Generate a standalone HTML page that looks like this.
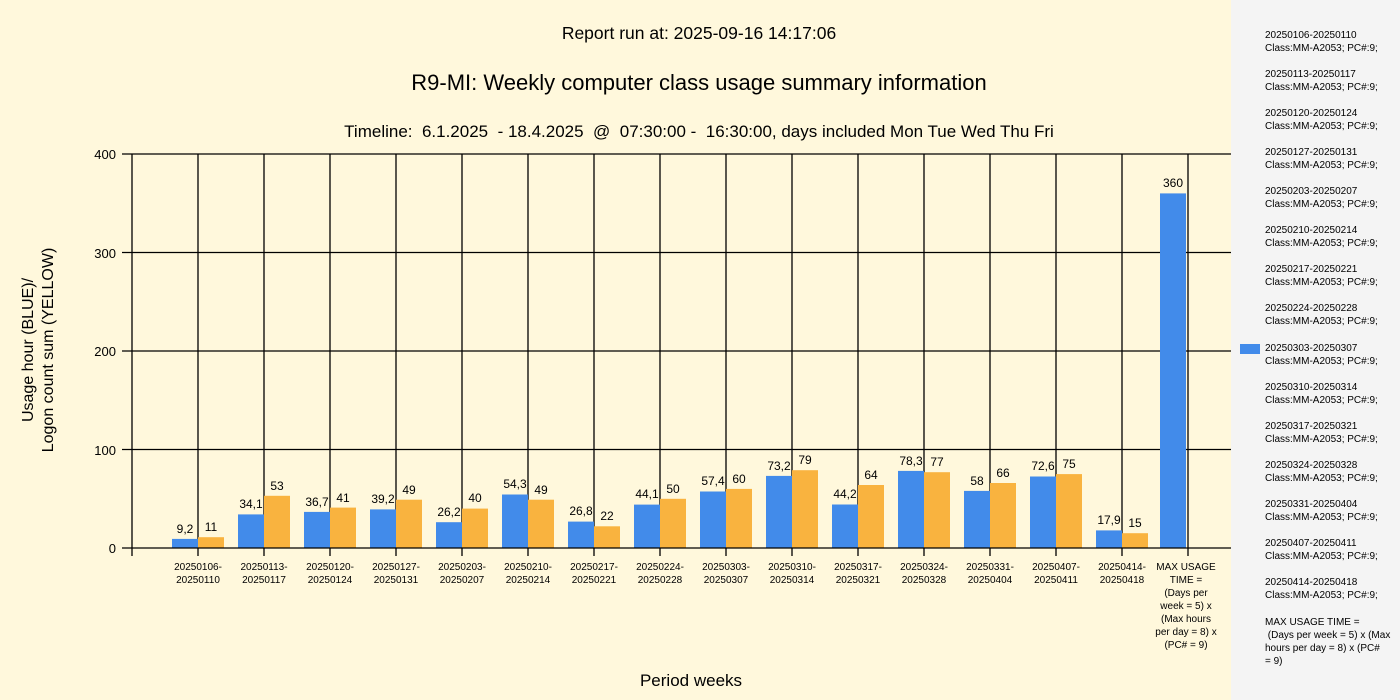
<!DOCTYPE html>
<html><head><meta charset="utf-8"><style>
body{margin:0;width:1400px;height:700px;overflow:hidden;background:#fff8dc;}
svg{display:block;font-family:"Liberation Sans",sans-serif;}
text{white-space:pre;}
</style></head><body>
<svg width="1400" height="700" viewBox="0 0 1400 700">
<rect x="0" y="0" width="1231" height="700" fill="#fff8dc"/>
<rect x="1231" y="0" width="169" height="700" fill="#f4f4f4"/>
<g text-anchor="middle" fill="#000">
<text x="699" y="39" font-size="17.5">Report run at: 2025-09-16 14:17:06</text>
<text x="699" y="90" font-size="22">R9-MI: Weekly computer class usage summary information</text>
<text x="699" y="137" font-size="17" xml:space="preserve">Timeline:  6.1.2025  - 18.4.2025  @  07:30:00 -  16:30:00, days included Mon Tue Wed Thu Fri</text>
<text x="691" y="686" font-size="17">Period weeks</text>
<text transform="translate(33,350) rotate(-90)" font-size="16">Usage hour (BLUE)/</text>
<text transform="translate(53,350) rotate(-90)" font-size="16">Logon count sum (YELLOW)</text>
</g>
<g stroke="#000" stroke-width="1.3">
<line x1="122" y1="154" x2="1231" y2="154"/><line x1="122" y1="252.5" x2="1231" y2="252.5"/>
<line x1="122" y1="351" x2="1231" y2="351"/><line x1="122" y1="449.5" x2="1231" y2="449.5"/>
<line x1="132" y1="154" x2="132" y2="556"/>
<path d="M198 154V556M264 154V556M330 154V556M396 154V556M462 154V556M528 154V556M594 154V556M660 154V556M726 154V556M792 154V556M858 154V556M924 154V556M990 154V556M1056 154V556M1122 154V556M1188 154V556"/>
</g>
<g font-size="13" text-anchor="end"><text x="116" y="159">400</text><text x="116" y="258">300</text><text x="116" y="356">200</text><text x="116" y="455">100</text><text x="116" y="553">0</text></g>
<g fill="#428bea">
<rect x="172" y="538.9" width="26" height="9.1"/><rect x="238" y="514.4" width="26" height="33.6"/><rect x="304" y="511.9" width="26" height="36.1"/><rect x="370" y="509.4" width="26" height="38.6"/><rect x="436" y="522.2" width="26" height="25.8"/><rect x="502" y="494.5" width="26" height="53.5"/><rect x="568" y="521.6" width="26" height="26.4"/><rect x="634" y="504.6" width="26" height="43.4"/><rect x="700" y="491.5" width="26" height="56.5"/><rect x="766" y="475.9" width="26" height="72.1"/><rect x="832" y="504.5" width="26" height="43.5"/><rect x="898" y="470.9" width="26" height="77.1"/><rect x="964" y="490.9" width="26" height="57.1"/><rect x="1030" y="476.5" width="26" height="71.5"/><rect x="1096" y="530.4" width="26" height="17.6"/><rect x="1160" y="193.4" width="26" height="354.6"/>
</g>
<g fill="#f9b33f">
<rect x="198" y="537.2" width="26" height="10.8"/><rect x="264" y="495.8" width="26" height="52.2"/><rect x="330" y="507.6" width="26" height="40.4"/><rect x="396" y="499.7" width="26" height="48.3"/><rect x="462" y="508.6" width="26" height="39.4"/><rect x="528" y="499.7" width="26" height="48.3"/><rect x="594" y="526.3" width="26" height="21.7"/><rect x="660" y="498.8" width="26" height="49.2"/><rect x="726" y="488.9" width="26" height="59.1"/><rect x="792" y="470.2" width="26" height="77.8"/><rect x="858" y="485" width="26" height="63"/><rect x="924" y="472.2" width="26" height="75.8"/><rect x="990" y="483" width="26" height="65"/><rect x="1056" y="474.1" width="26" height="73.9"/><rect x="1122" y="533.2" width="26" height="14.8"/>
</g>
<line x1="122" y1="548" x2="1231" y2="548" stroke="#000" stroke-width="1.3"/>
<g font-size="12" text-anchor="middle">
<text x="185" y="533">9,2</text><text x="211" y="531">11</text>
<text x="251" y="508">34,1</text><text x="277" y="490">53</text>
<text x="317" y="506">36,7</text><text x="343" y="502">41</text>
<text x="383" y="503">39,2</text><text x="409" y="494">49</text>
<text x="449" y="516">26,2</text><text x="475" y="502">40</text>
<text x="515" y="488">54,3</text><text x="541" y="494">49</text>
<text x="581" y="515">26,8</text><text x="607" y="520">22</text>
<text x="647" y="498">44,1</text><text x="673" y="493">50</text>
<text x="713" y="485">57,4</text><text x="739" y="483">60</text>
<text x="779" y="470">73,2</text><text x="805" y="464">79</text>
<text x="845" y="498">44,2</text><text x="871" y="479">64</text>
<text x="911" y="465">78,3</text><text x="937" y="466">77</text>
<text x="977" y="485">58</text><text x="1003" y="477">66</text>
<text x="1043" y="470">72,6</text><text x="1069" y="468">75</text>
<text x="1109" y="524">17,9</text><text x="1135" y="527">15</text>
<text x="1173" y="187">360</text>
</g>
<g font-size="10" text-anchor="middle">
<text x="198" y="570">20250106-</text><text x="198" y="583">20250110</text>
<text x="264" y="570">20250113-</text><text x="264" y="583">20250117</text>
<text x="330" y="570">20250120-</text><text x="330" y="583">20250124</text>
<text x="396" y="570">20250127-</text><text x="396" y="583">20250131</text>
<text x="462" y="570">20250203-</text><text x="462" y="583">20250207</text>
<text x="528" y="570">20250210-</text><text x="528" y="583">20250214</text>
<text x="594" y="570">20250217-</text><text x="594" y="583">20250221</text>
<text x="660" y="570">20250224-</text><text x="660" y="583">20250228</text>
<text x="726" y="570">20250303-</text><text x="726" y="583">20250307</text>
<text x="792" y="570">20250310-</text><text x="792" y="583">20250314</text>
<text x="858" y="570">20250317-</text><text x="858" y="583">20250321</text>
<text x="924" y="570">20250324-</text><text x="924" y="583">20250328</text>
<text x="990" y="570">20250331-</text><text x="990" y="583">20250404</text>
<text x="1056" y="570">20250407-</text><text x="1056" y="583">20250411</text>
<text x="1122" y="570">20250414-</text><text x="1122" y="583">20250418</text>
<text x="1186" y="570">MAX USAGE</text><text x="1186" y="583">TIME =</text><text x="1186" y="596">(Days per</text><text x="1186" y="609">week = 5) x</text><text x="1186" y="622">(Max hours</text><text x="1186" y="635">per day = 8) x</text><text x="1186" y="648">(PC# = 9)</text>
</g>
<rect x="1240" y="344" width="20" height="10" fill="#428bea"/>
<g font-size="10">
<text x="1265" y="38">20250106-20250110</text><text x="1265" y="51">Class:MM-A2053; PC#:9;</text>
<text x="1265" y="77">20250113-20250117</text><text x="1265" y="90">Class:MM-A2053; PC#:9;</text>
<text x="1265" y="116">20250120-20250124</text><text x="1265" y="129">Class:MM-A2053; PC#:9;</text>
<text x="1265" y="155">20250127-20250131</text><text x="1265" y="168">Class:MM-A2053; PC#:9;</text>
<text x="1265" y="194">20250203-20250207</text><text x="1265" y="207">Class:MM-A2053; PC#:9;</text>
<text x="1265" y="233">20250210-20250214</text><text x="1265" y="246">Class:MM-A2053; PC#:9;</text>
<text x="1265" y="272">20250217-20250221</text><text x="1265" y="285">Class:MM-A2053; PC#:9;</text>
<text x="1265" y="311">20250224-20250228</text><text x="1265" y="324">Class:MM-A2053; PC#:9;</text>
<text x="1265" y="351">20250303-20250307</text><text x="1265" y="364">Class:MM-A2053; PC#:9;</text>
<text x="1265" y="390">20250310-20250314</text><text x="1265" y="403">Class:MM-A2053; PC#:9;</text>
<text x="1265" y="429">20250317-20250321</text><text x="1265" y="442">Class:MM-A2053; PC#:9;</text>
<text x="1265" y="468">20250324-20250328</text><text x="1265" y="481">Class:MM-A2053; PC#:9;</text>
<text x="1265" y="507">20250331-20250404</text><text x="1265" y="520">Class:MM-A2053; PC#:9;</text>
<text x="1265" y="546">20250407-20250411</text><text x="1265" y="559">Class:MM-A2053; PC#:9;</text>
<text x="1265" y="585">20250414-20250418</text><text x="1265" y="598">Class:MM-A2053; PC#:9;</text>
<text x="1265" y="625">MAX USAGE TIME =</text><text x="1265" y="638"> (Days per week = 5) x (Max</text><text x="1265" y="651">hours per day = 8) x (PC#</text><text x="1265" y="664">= 9)</text>
</g>
</svg>
</body></html>
